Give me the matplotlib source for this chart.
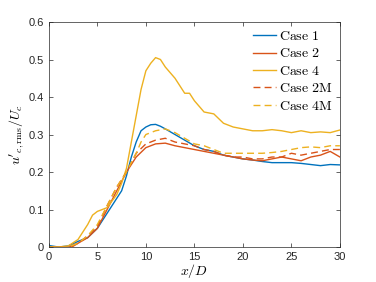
import matplotlib.pyplot as plt
import numpy as np

plt.rcParams['mathtext.fontset'] = 'cm'
plt.rcParams['font.family'] = ['Liberation Sans', 'DejaVu Sans']

blue = (0.0, 0.447, 0.741)
red = (0.85, 0.325, 0.098)
yellow = (0.929, 0.694, 0.125)

# Case 1
x1 = [0, 1, 2, 3, 4, 5, 6, 7, 7.5, 8, 8.5, 9, 9.5, 10, 10.5, 11, 11.5, 12, 13, 14, 15,
      16, 17, 18, 19, 20, 21, 22, 23, 24, 25, 26, 27, 28, 29, 30]
y1 = [0.004, 0.0, 0.003, 0.015, 0.025, 0.05, 0.09, 0.13, 0.15, 0.19, 0.24, 0.28, 0.31,
      0.32, 0.326, 0.327, 0.322, 0.315, 0.30, 0.285, 0.27, 0.26, 0.255, 0.245, 0.24,
      0.235, 0.232, 0.228, 0.225, 0.225, 0.225, 0.223, 0.22, 0.217, 0.22, 0.219]

# Case 2
x2 = [0, 1, 2, 2.5, 3, 4, 5, 6, 7, 8, 9, 10, 11, 12, 13, 14, 15, 16, 17, 18, 19, 20,
      21, 22, 23, 24, 25, 26, 27, 28, 29, 30]
y2 = [0.0, 0.0, 0.0, 0.002, 0.01, 0.025, 0.05, 0.10, 0.15, 0.20, 0.24, 0.265, 0.275,
      0.277, 0.27, 0.265, 0.26, 0.255, 0.25, 0.245, 0.24, 0.235, 0.232, 0.23, 0.235,
      0.24, 0.235, 0.23, 0.24, 0.245, 0.255, 0.24]

# Case 4
x4 = [0, 1, 2, 3, 4, 4.5, 5, 6, 7, 7.5, 8, 8.5, 9, 9.5, 10, 10.5, 11, 11.5, 12, 13, 14,
      14.5, 15, 16, 17, 18, 19, 20, 21, 22, 23, 24, 25, 26, 27, 28, 29, 30]
y4 = [0.0, 0.0, 0.003, 0.02, 0.06, 0.085, 0.095, 0.105, 0.14, 0.17, 0.21, 0.28, 0.35,
      0.42, 0.47, 0.49, 0.505, 0.50, 0.48, 0.45, 0.41, 0.41, 0.39, 0.36, 0.355, 0.33,
      0.32, 0.315, 0.31, 0.31, 0.313, 0.31, 0.305, 0.31, 0.305, 0.307, 0.305, 0.312]

# Case 2M
x2m = [0, 1, 2, 3, 4, 5, 6, 7, 8, 9, 10, 11, 12, 13, 14, 15, 16, 17, 18, 19, 20, 21,
       22, 23, 24, 25, 26, 27, 28, 29, 30]
y2m = [0.0, 0.0, 0.0, 0.01, 0.03, 0.055, 0.11, 0.16, 0.20, 0.25, 0.275, 0.285, 0.29,
       0.28, 0.275, 0.27, 0.26, 0.255, 0.245, 0.24, 0.24, 0.235, 0.235, 0.24, 0.24,
       0.25, 0.245, 0.25, 0.255, 0.26, 0.26]

# Case 4M
x4m = [0, 1, 2, 3, 4, 5, 6, 7, 8, 9, 9.5, 10, 11, 12, 13, 14, 15, 16, 17, 18, 19, 20,
       21, 22, 23, 24, 25, 26, 27, 28, 29, 30]
y4m = [0.0, 0.0, 0.0, 0.01, 0.03, 0.06, 0.11, 0.16, 0.20, 0.25, 0.28, 0.30, 0.31,
       0.315, 0.305, 0.29, 0.275, 0.27, 0.26, 0.25, 0.25, 0.25, 0.25, 0.25, 0.252,
       0.255, 0.26, 0.265, 0.267, 0.265, 0.27, 0.27]

fig = plt.figure(figsize=(3.76, 2.82), dpi=100)
ax = fig.add_axes([0.130, 0.124, 0.774, 0.798])

ax.plot(x1, y1, color=blue, lw=1.0, label=r'$\mathrm{Case\ 1}$')
ax.plot(x2, y2, color=red, lw=1.0, label=r'$\mathrm{Case\ 2}$')
ax.plot(x4, y4, color=yellow, lw=1.0, label=r'$\mathrm{Case\ 4}$')
ax.plot(x2m, y2m, color=red, lw=1.0, ls=(0, (5, 3)), label=r'$\mathrm{Case\ 2M}$')
ax.plot(x4m, y4m, color=yellow, lw=1.0, ls=(0, (5, 3)), label=r'$\mathrm{Case\ 4M}$')

ax.set_xlim(0, 30)
ax.set_ylim(0, 0.6)
ax.set_xticks([0, 5, 10, 15, 20, 25, 30])
ax.set_yticks([0, 0.1, 0.2, 0.3, 0.4, 0.5, 0.6])
ax.set_yticklabels(['0', '0.1', '0.2', '0.3', '0.4', '0.5', '0.6'])
ax.tick_params(direction='in', top=True, right=True, labelsize=8, length=3,
               color='0.15', labelcolor='0.15', width=0.5)
for s in ax.spines.values():
    s.set_color('0.15')
    s.set_linewidth(0.5)

ax.set_xlabel(r'$x/D$', fontsize=10, labelpad=0)
ax.set_ylabel(r"$u'_{c,\mathrm{rms}}/U_c$", fontsize=10, labelpad=2)

ax.legend(loc='upper right', frameon=False, fontsize=10, handlelength=1.6,
          handletextpad=0.25, labelspacing=0.25, borderaxespad=0.1)

fig.savefig('out.png', dpi=100)
